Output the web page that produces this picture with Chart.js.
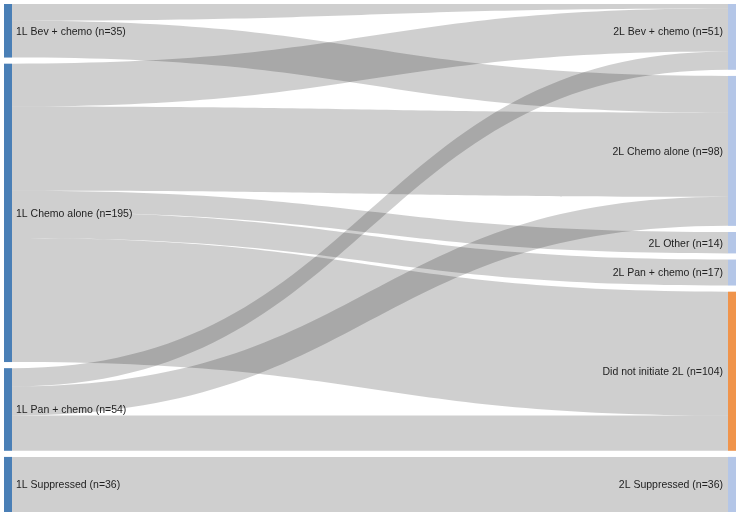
<!DOCTYPE html>
<html>
<head>
<meta charset="utf-8">
<title>1L to 2L treatment flow</title>
<script src="https://cdn.jsdelivr.net/npm/chart.js@4.4.0/dist/chart.umd.min.js"></script>
<style>
  html, body { margin: 0; padding: 0; background: #fff; }
  #wrap { width: 739px; height: 516px; position: relative; }
</style>
</head>
<body>
<div id="wrap"><canvas id="sankey"></canvas></div>
<script>
// first line of therapy (left column)
const leftNodes = ['1L Bev + chemo', '1L Chemo alone', '1L Pan + chemo', '1L Suppressed'];
const leftCounts = [35, 195, 54, 36];

// second line of therapy (right column)
const rightNodes = ['2L Bev + chemo', '2L Chemo alone', '2L Other', '2L Pan + chemo', 'Did not initiate 2L', '2L Suppressed'];
const rightCounts = [51, 98, 14, 17, 104, 36];

// flows: left node index -> right node index, number of patients
const flowFrom = [0, 0, 1, 1, 1, 1, 1, 2, 2, 2, 3];
const flowTo = [0, 1, 0, 1, 2, 3, 4, 0, 1, 4, 5];
const flowValues = [11, 24, 28, 55, 14, 17, 81, 12, 19, 23, 36];

const NODE_GAP = 4; // in patients, space between two nodes of a column
const NODE_WIDTH = 8;
const LEFT_COLOR = '#4a7fb6';
const RIGHT_COLOR = '#b4c6e7';
const HIGHLIGHT_COLOR = '#f0944b';
const LINK_COLOR = 'rgba(0, 0, 0, 0.19)';
const LABEL_FONT = '10.5px "Liberation Sans", Arial, sans-serif';

/**
 * Start of every node of a column, nodes stacked from the top with a gap.
 */
const nodeStarts = (counts) => {
  let pos = 0;
  return counts.map(c => {
    const start = pos;
    pos += c + NODE_GAP;
    return start;
  });
};

const columnMax = (counts) => counts.reduce((a, b) => a + b, 0) + NODE_GAP * (counts.length - 1);

const leftStarts = nodeStarts(leftCounts);
const rightStarts = nodeStarts(rightCounts);

// both columns share one scale, bottoms aligned: the taller right column runs over the top
const leftMax = columnMax(leftCounts);
const rightMax = columnMax(rightCounts);

const sankeyPlugin = {
  id: 'sankeyPlugin',
  afterDatasetsDraw(chart) {
    const { ctx, chartArea } = chart;
    const xs = chart.scales.x;
    const yL = chart.scales.yL;
    const yR = chart.scales.yR;
    const xLeft = xs.getPixelForValue(0);
    const xRight = xs.getPixelForValue(1);
    const x0 = xLeft + NODE_WIDTH;
    const x1 = xRight - NODE_WIDTH;
    const xm = (x0 + x1) / 2;

    ctx.save();
    ctx.beginPath();
    ctx.rect(chartArea.left, chartArea.top, chartArea.right - chartArea.left, chartArea.bottom - chartArea.top);
    ctx.clip();

    // links, stacked inside each node in list order
    const outUsed = leftCounts.map(() => 0);
    const inUsed = rightCounts.map(() => 0);
    ctx.fillStyle = LINK_COLOR;
    flowValues.forEach((v, i) => {
      const s = flowFrom[i];
      const t = flowTo[i];
      const a0 = yL.getPixelForValue(leftStarts[s] + outUsed[s]);
      const a1 = yL.getPixelForValue(leftStarts[s] + outUsed[s] + v);
      const b0 = yR.getPixelForValue(rightStarts[t] + inUsed[t]);
      const b1 = yR.getPixelForValue(rightStarts[t] + inUsed[t] + v);
      outUsed[s] += v;
      inUsed[t] += v;
      ctx.beginPath();
      ctx.moveTo(x0, a0);
      ctx.bezierCurveTo(xm, a0, xm, b0, x1, b0);
      ctx.lineTo(x1, b1);
      ctx.bezierCurveTo(xm, b1, xm, a1, x0, a1);
      ctx.closePath();
      ctx.fill();
    });

    // nodes
    leftCounts.forEach((c, i) => {
      const top = yL.getPixelForValue(leftStarts[i]);
      const bottom = yL.getPixelForValue(leftStarts[i] + c);
      ctx.fillStyle = LEFT_COLOR;
      ctx.fillRect(xLeft, top, NODE_WIDTH, bottom - top);
    });
    rightCounts.forEach((c, i) => {
      const top = yR.getPixelForValue(rightStarts[i]);
      const bottom = yR.getPixelForValue(rightStarts[i] + c);
      ctx.fillStyle = rightNodes[i] === 'Did not initiate 2L' ? HIGHLIGHT_COLOR : RIGHT_COLOR;
      ctx.fillRect(x1, top, NODE_WIDTH, bottom - top);
    });
    ctx.restore();

    // labels
    ctx.save();
    ctx.font = LABEL_FONT;
    ctx.fillStyle = '#222';
    ctx.textBaseline = 'middle';
    ctx.textAlign = 'left';
    leftNodes.forEach((name, i) => {
      const mid = yL.getPixelForValue(leftStarts[i] + leftCounts[i] / 2);
      ctx.fillText(`${name} (n=${leftCounts[i]})`, x0 + 4, mid + 1);
    });
    ctx.textAlign = 'right';
    rightNodes.forEach((name, i) => {
      const mid = yR.getPixelForValue(rightStarts[i] + rightCounts[i] / 2);
      ctx.fillText(`${name} (n=${rightCounts[i]})`, x1 - 5, mid + 1);
    });
    ctx.restore();
  },
};

window.onload = () => {
  new Chart(document.querySelector('#sankey'), {
    type: 'scatter',
    data: {
      datasets: [{ data: [], xAxisID: 'x', yAxisID: 'yL' }],
    },
    options: {
      responsive: true,
      maintainAspectRatio: false,
      animation: false,
      layout: { padding: { left: 4, right: 3, top: 4, bottom: 4 } },
      plugins: { legend: { display: false }, tooltip: { enabled: false } },
      scales: {
        x: { type: 'linear', min: 0, max: 1, display: false },
        yL: { type: 'linear', min: 0, max: leftMax, reverse: true, display: false },
        yR: { type: 'linear', min: rightMax - leftMax, max: rightMax, reverse: true, display: false },
      },
    },
    plugins: [sankeyPlugin],
  });
};
</script>
</body>
</html>
